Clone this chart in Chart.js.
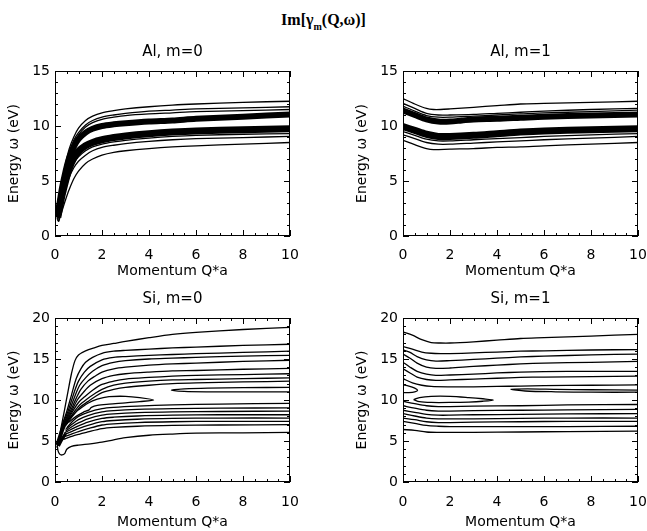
<!DOCTYPE html>
<html><head><meta charset="utf-8">
<script src="https://cdn.jsdelivr.net/npm/chart.js@4.4.1/dist/chart.umd.min.js"></script>
<style>
html,body{margin:0;padding:0;background:#fff;overflow:hidden;width:647px;height:531px;position:relative;}
#main{position:absolute;left:0;top:11px;width:647px;text-align:center;font:bold 16px "Liberation Serif",serif;color:#000;}
#main sub{font-size:10px;vertical-align:-5px;}
canvas{position:absolute;}
</style></head><body>
<div id="main">Im[γ<sub>m</sub>(Q,ω)]</div>
<canvas id="c1" width="325" height="250" style="left:0;top:30px"></canvas>
<canvas id="c2" width="340" height="250" style="left:325px;top:30px"></canvas>
<canvas id="c3" width="325" height="251" style="left:0;top:280px"></canvas>
<canvas id="c4" width="340" height="251" style="left:325px;top:280px"></canvas>
<script>
// ---------- tick definitions ----------
const xTickValues = [0,2,4,6,8,10];
const xMinorStep = 0.5;
const yMinorStep = 1;
const titles = ['Al, m=0','Al, m=1','Si, m=0','Si, m=1'];
const xLabel = 'Momentum Q*a';
const yLabel = 'Energy \u03c9 (eV)';

// ---------- Al, m=0 contours [Q, omega] ----------
const al0_a1 = [[0.1,1.8],[0.2,3.3],[0.3,4.8],[0.45,6.6],[0.6,7.9],[0.8,9.0],[1.0,9.8],[1.3,10.5],[1.6,10.9],[2,11.2],[2.5,11.4],[3,11.55],[4,11.75],[5,11.9],[6,12.0],[8,12.15],[10,12.25]];
const al0_a2 = [[0.1,1.8],[0.2,3.2],[0.3,4.6],[0.45,6.3],[0.6,7.6],[0.8,8.7],[1.0,9.4],[1.3,10.1],[1.6,10.5],[2,10.8],[2.5,11.0],[3,11.15],[4,11.35],[5,11.45],[6,11.55],[8,11.65],[10,11.75]];
const al0_a3 = [[0.1,1.8],[0.2,3.1],[0.3,4.5],[0.45,6.1],[0.6,7.4],[0.8,8.5],[1.0,9.2],[1.3,9.9],[1.6,10.3],[2,10.6],[2.5,10.8],[3,10.95],[4,11.1],[5,11.2],[6,11.3],[8,11.4],[10,11.5]];
const al0_b1 = [[0.1,1.9],[0.2,3.1],[0.3,4.4],[0.45,5.9],[0.6,7.1],[0.8,8.1],[1.0,8.8],[1.3,9.4],[1.6,9.75],[2,10.0],[2.5,10.15],[3,10.25],[4,10.4],[5,10.5],[6,10.65],[8,10.85],[10,11.05]];
const al0_b2 = [[0.12,1.7],[0.2,2.6],[0.3,3.7],[0.45,5.0],[0.6,6.1],[0.8,7.1],[1.0,7.7],[1.3,8.2],[1.6,8.5],[2,8.75],[2.5,8.95],[3,9.1],[4,9.3],[5,9.45],[6,9.55],[8,9.65],[10,9.75]];
const al0_c1 = [[0.12,1.6],[0.2,2.4],[0.3,3.4],[0.45,4.6],[0.6,5.6],[0.8,6.6],[1.0,7.2],[1.3,7.75],[1.6,8.1],[2,8.35],[2.5,8.55],[3,8.7],[4,8.9],[5,9.05],[6,9.15],[8,9.25],[10,9.3]];
const al0_c2 = [[0.12,1.5],[0.2,2.2],[0.3,3.1],[0.45,4.3],[0.6,5.3],[0.8,6.2],[1.0,6.8],[1.3,7.35],[1.6,7.75],[2,8.05],[2.5,8.25],[3,8.4],[4,8.6],[5,8.75],[6,8.85],[8,8.95],[10,9.05]];
const al0_c3 = [[0.15,1.3],[0.2,1.6],[0.3,2.3],[0.45,3.3],[0.6,4.2],[0.8,5.2],[1.0,5.9],[1.3,6.6],[1.6,7.0],[2,7.35],[2.5,7.6],[3,7.75],[4,7.95],[5,8.1],[6,8.2],[8,8.35],[10,8.5]];
const al0_loop = [[0.1,1.5],[0.15,1.35],[0.19,1.7],[0.2,2.3],[0.16,2.6],[0.11,2.3],[0.09,1.9],[0.1,1.5]];

// ---------- Al, m=1 contours ----------
const al1_d1 = [[0,12.5],[0.5,12.0],[1,11.6],[1.3,11.5],[1.6,11.5],[2,11.55],[3,11.7],[4,11.85],[5,12.0],[6,12.05],[8,12.15],[10,12.25]];
const al1_d2 = [[0,12.05],[0.5,11.6],[1,11.15],[1.5,11.0],[2,11.0],[3,11.05],[4,11.15],[5,11.25],[6,11.35],[8,11.5],[10,11.6]];
const al1_d3 = [[0,11.8],[0.5,11.35],[1,10.95],[1.5,10.8],[2,10.8],[3,10.9],[4,11.0],[5,11.1],[6,11.2],[8,11.3],[10,11.45]];
const al1_e1 = [[0,11.4],[0.5,11.0],[1,10.6],[1.5,10.4],[2,10.4],[2.5,10.5],[3,10.6],[4,10.65],[5,10.75],[6,10.85],[8,10.95],[10,11.05]];
const al1_e2 = [[0,9.95],[0.5,9.6],[1,9.25],[1.5,9.05],[2,9.05],[3,9.15],[4,9.3],[5,9.45],[6,9.55],[8,9.65],[10,9.75]];
const al1_f1 = [[0,9.5],[0.5,9.15],[1,8.8],[1.5,8.65],[2,8.65],[3,8.75],[4,8.85],[5,8.95],[6,9.05],[8,9.2],[10,9.3]];
const al1_f2 = [[0,9.2],[0.5,8.85],[1,8.5],[1.5,8.35],[2,8.35],[3,8.45],[4,8.55],[5,8.65],[6,8.75],[8,8.9],[10,9.05]];
const al1_f3 = [[0,8.7],[0.5,8.3],[1,7.95],[1.3,7.85],[2,7.9],[3,7.95],[4,8.05],[5,8.1],[6,8.2],[8,8.35],[10,8.5]];

// ---------- Si, m=0 contours ----------
const si0_u1 = [[0.08,4.2],[0.15,5.0],[0.25,6.5],[0.4,8.7],[0.55,11.0],[0.7,13.2],[0.85,14.8],[1.0,15.5],[1.3,16.0],[1.7,16.4],[2,16.65],[2.5,16.9],[3,17.15],[4,17.6],[5,18.0],[6,18.25],[8,18.6],[10,18.85]];
const si0_u2 = [[0.3,6.9],[0.5,8.6],[0.7,10.6],[0.9,12.6],[1.1,13.8],[1.3,14.6],[1.6,15.2],[2,15.7],[2.5,15.95],[3,16.05],[4,16.2],[5,16.35],[6,16.45],[8,16.65],[10,16.8]];
const si0_u3 = [[0.3,6.9],[0.55,8.6],[0.8,10.8],[1.0,12.3],[1.25,13.4],[1.5,14.1],[2,14.9],[2.5,15.2],[3,15.3],[4,15.45],[5,15.55],[6,15.65],[8,15.8],[10,15.95]];
const si0_u4 = [[0.33,6.9],[0.6,8.6],[0.85,10.5],[1.05,11.8],[1.3,12.7],[1.6,13.5],[2,14.2],[2.5,14.6],[3,14.8],[4,15.0],[5,15.1],[6,15.2],[8,15.35],[10,15.45]];
const si0_u5 = [[0.35,6.9],[0.65,8.6],[0.9,10.2],[1.1,11.3],[1.4,12.3],[1.7,12.9],[2,13.4],[2.5,13.8],[3,14.0],[4,14.25],[5,14.4],[6,14.5],[8,14.7],[10,14.85]];
const si0_u6 = [[0.38,6.9],[0.7,8.6],[0.95,10.0],[1.2,10.9],[1.5,11.8],[2,12.6],[2.5,13.0],[3,13.2],[4,13.4],[5,13.55],[6,13.6],[8,13.75],[10,13.85]];
const si0_u7 = [[0.4,6.9],[0.75,8.6],[1.0,9.7],[1.3,10.5],[1.6,11.2],[2,11.9],[2.5,12.3],[3,12.55],[4,12.75],[5,12.9],[6,13.0],[8,13.1],[10,13.2]];
const si0_u8 = [[0.42,6.9],[0.8,8.5],[1.05,9.4],[1.35,10.1],[1.7,10.8],[2,11.3],[2.5,11.8],[3,12.05],[4,12.3],[5,12.45],[6,12.5],[8,12.6],[10,12.7]];
const si0_u9 = [[0.45,6.9],[0.85,8.4],[1.1,9.2],[1.4,9.8],[1.7,10.4],[2,10.9],[2.5,11.3],[3,11.55],[4,11.8],[5,12.0],[6,12.1],[8,12.2],[10,12.3]];
const si0_t1 = [[0.55,7.6],[0.8,8.3],[1.0,8.8],[1.4,9.6],[1.8,10.1],[2.3,10.4],[3,10.45],[3.6,10.3],[4.2,10.0],[3.6,9.8],[3,9.65],[2.3,9.5],[1.8,9.35],[1.55,9.1],[1.45,8.8],[1.2,8.5],[0.9,8.0],[0.6,7.3]];
const si0_t2 = [[10,11.55],[8,11.5],[6.5,11.45],[5.5,11.35],[4.95,11.2],[5.5,11.05],[6.5,11.0],[8,11.0],[10,11.0]];
const si0_l1 = [[0.5,6.6],[0.75,7.4],[1,8.0],[1.4,8.5],[2,8.95],[2.5,9.1],[3.5,9.25],[5,9.4],[7,9.5],[10,9.6]];
const si0_l2 = [[0.45,6.4],[0.75,7.1],[1,7.6],[1.4,8.1],[2,8.55],[2.5,8.7],[3.5,8.85],[5,8.95],[7,9.0],[10,9.05]];
const si0_l3 = [[0.45,6.2],[0.75,6.8],[1,7.2],[1.4,7.7],[2,8.15],[2.5,8.3],[3.5,8.45],[5,8.55],[7,8.6],[10,8.65]];
const si0_l4 = [[0.4,6.0],[0.75,6.5],[1,6.85],[1.4,7.3],[2,7.75],[2.5,7.9],[3.5,8.05],[5,8.15],[7,8.2],[10,8.2]];
const si0_l5 = [[0.4,5.8],[0.75,6.2],[1,6.5],[1.4,6.9],[2,7.35],[2.5,7.5],[3.5,7.65],[5,7.75],[7,7.8],[10,7.8]];
const si0_l6 = [[0.38,5.5],[0.75,5.9],[1,6.15],[1.4,6.5],[2,6.95],[2.5,7.1],[3.5,7.25],[5,7.35],[7,7.4],[10,7.4]];
const si0_l7 = [[0.35,5.2],[0.75,5.6],[1,5.8],[1.4,6.1],[2,6.5],[2.5,6.65],[3.5,6.8],[5,6.9],[7,6.95],[10,7.0]];
const si0_bot = [[0.1,4.4],[0.13,3.8],[0.2,3.4],[0.3,3.3],[0.42,3.5],[0.5,4.0],[0.7,4.35],[1,4.5],[1.5,4.65],[2,4.85],[2.5,5.15],[3,5.4],[4,5.7],[5,5.85],[6,5.95],[8,6.0],[10,6.05]];
const si0_knot1 = [[0.1,4.5],[0.2,5.4],[0.3,6.3],[0.4,7.0],[0.55,7.5]];
const si0_knot2 = [[0.15,4.4],[0.3,5.2],[0.45,5.9]];

// ---------- Si, m=1 contours ----------
const si1_t1 = [[0,18.3],[0.4,17.9],[0.8,17.35],[1.2,17.0],[1.6,16.95],[2,16.95],[3,17.1],[4,17.3],[5,17.5],[6,17.6],[8,17.8],[10,18.0]];
const si1_t2 = [[0,16.5],[0.4,16.2],[0.8,15.85],[1.2,15.7],[1.6,15.65],[2,15.65],[3,15.75],[4,15.85],[5,15.95],[6,16.0],[8,16.1],[10,16.15]];
const si1_t3 = [[0,16.1],[0.3,15.8],[0.6,15.3],[1,14.9],[1.4,14.75],[2,14.8],[3,14.95],[4,15.1],[5,15.25],[6,15.35],[8,15.5],[10,15.6]];
const si1_t4 = [[0,15.6],[0.3,15.1],[0.6,14.5],[1,14.0],[1.4,13.85],[2,13.9],[3,14.1],[4,14.25],[5,14.4],[6,14.5],[8,14.6],[10,14.7]];
const si1_t5 = [[0,14.6],[0.3,14.0],[0.6,13.5],[1,13.15],[1.4,13.0],[2,13.05],[3,13.15],[4,13.3],[5,13.4],[6,13.45],[8,13.5],[10,13.5]];
const si1_t6 = [[0,13.8],[0.3,13.3],[0.6,12.8],[1,12.5],[1.4,12.4],[2,12.45],[3,12.55],[4,12.65],[5,12.75],[6,12.8],[8,12.85],[10,12.9]];
const si1_t7 = [[0,12.6],[0.4,12.1],[0.8,11.8],[1.2,11.65],[2,11.6],[3,11.6],[4,11.65],[5,11.7],[6,11.75],[8,11.8],[10,11.85]];
const si1_tongue = [[10,11.2],[8,11.25],[6.5,11.3],[5.3,11.35],[4.6,11.3],[5.2,11.1],[6.5,11.0],[8,10.95],[10,10.95]];
const si1_loopL = [[0,11.85],[0.25,11.7],[0.5,11.45],[0.62,11.2],[0.5,11.0],[0.25,10.9],[0,10.9]];
const si1_loopM = [[0.45,10.05],[0.7,10.3],[1.2,10.45],[2,10.45],[2.8,10.3],[3.4,10.15],[3.85,10.0],[3.4,9.85],[2.8,9.75],[2,9.7],[1.2,9.7],[0.7,9.8],[0.45,10.05]];
const si1_l1 = [[0,9.85],[0.5,9.55],[1,9.3],[1.5,9.2],[2,9.2],[3,9.25],[5,9.3],[7,9.4],[10,9.45]];
const si1_l2 = [[0,9.3],[0.5,9.0],[1,8.75],[1.5,8.65],[2,8.65],[3,8.7],[5,8.75],[7,8.8],[10,8.85]];
const si1_l3 = [[0,8.75],[0.5,8.5],[1,8.25],[1.5,8.15],[2,8.15],[3,8.2],[5,8.25],[7,8.3],[10,8.35]];
const si1_l4 = [[0,8.35],[0.5,8.05],[1,7.8],[1.5,7.7],[2,7.7],[3,7.7],[5,7.75],[7,7.8],[10,7.8]];
const si1_l5 = [[0,7.8],[0.5,7.6],[1,7.35],[1.5,7.25],[2,7.25],[3,7.3],[5,7.35],[7,7.4],[10,7.4]];
const si1_l6 = [[0,7.4],[0.5,7.15],[1,6.9],[1.5,6.8],[2,6.75],[3,6.75],[5,6.75],[7,6.75],[10,6.8]];
const si1_l7 = [[0,6.4],[0.5,6.3],[1,6.1],[1.5,6.05],[2,6.05],[3,6.05],[5,6.1],[7,6.15],[10,6.2]];

// ---------- panel assembly ----------
const thinW = 1.3;
function ds(pts, w) {
  return {data: pts.map(p => ({x: p[0], y: p[1]})), showLine: true, borderColor: '#000',
          borderWidth: w || thinW, pointRadius: 0, tension: 0.3, fill: false};
}
const panels = [
  {id:'c1', ymax:15, yStep:5, title:titles[0], pt:41, pr:35, yW:55, xH:44, yTitlePad:6, xPad:11,
   sets:[ds(al0_a1),ds(al0_a2),ds(al0_a3),ds(al0_b1,6),ds(al0_b2,7),ds(al0_c1),ds(al0_c2),ds(al0_c3),ds(al0_loop)]},
  {id:'c2', ymax:15, yStep:5, title:titles[1], pt:41, pr:27, yW:78, xH:44, yTitlePad:29, xPad:11,
   sets:[ds(al1_d1),ds(al1_d2),ds(al1_d3),ds(al1_e1,6),ds(al1_e2,7),ds(al1_f1),ds(al1_f2),ds(al1_f3)]},
  {id:'c3', ymax:20, yStep:5, title:titles[2], pt:38, pr:35, yW:55, xH:49, yTitlePad:6, xPad:12,
   sets:[ds(si0_u1),ds(si0_u2),ds(si0_u3),ds(si0_u4),ds(si0_u5),ds(si0_u6),ds(si0_u7),ds(si0_u8),ds(si0_u9),
         ds(si0_t1),ds(si0_t2),ds(si0_l1),ds(si0_l2),ds(si0_l3),ds(si0_l4),ds(si0_l5),ds(si0_l6),ds(si0_l7),
         ds(si0_bot),ds(si0_knot1,4),ds(si0_knot2,3)]},
  {id:'c4', ymax:20, yStep:5, title:titles[3], pt:38, pr:27, yW:78, xH:49, yTitlePad:29, xPad:12,
   sets:[ds(si1_t1),ds(si1_t2),ds(si1_t3),ds(si1_t4),ds(si1_t5),ds(si1_t6),ds(si1_t7),ds(si1_tongue),
         ds(si1_loopL),ds(si1_loopM),ds(si1_l1),ds(si1_l2),ds(si1_l3),ds(si1_l4),ds(si1_l5),ds(si1_l6),ds(si1_l7)]}
];

const framePlugin = {
  id: 'frame',
  afterDraw(chart, args, opts) {
    const {ctx, chartArea: a, scales: {x, y}} = chart;
    ctx.save();
    ctx.strokeStyle = '#000';
    ctx.lineWidth = 1;
    ctx.strokeRect(a.left + 0.5, a.top + 0.5, a.right - a.left - 1, a.bottom - a.top - 1);
    ctx.beginPath();
    for (let v = x.min; v <= x.max + 1e-9; v += xMinorStep) {
      const px = Math.round(x.getPixelForValue(v)) + 0.5;
      const len = xTickValues.includes(Math.round(v * 100) / 100) ? 6 : 3;
      ctx.moveTo(px, a.bottom); ctx.lineTo(px, a.bottom - len);
      ctx.moveTo(px, a.top); ctx.lineTo(px, a.top + len);
    }
    for (let v = y.min; v <= y.max + 1e-9; v += yMinorStep) {
      const py = Math.round(y.getPixelForValue(v)) + 0.5;
      const len = (Math.round(v) % opts.major === 0) ? 6 : 3;
      ctx.moveTo(a.left, py); ctx.lineTo(a.left + len, py);
      ctx.moveTo(a.right, py); ctx.lineTo(a.right - len, py);
    }
    ctx.stroke();
    ctx.fillStyle = '#000';
    ctx.font = '15px "DejaVu Sans"';
    ctx.textAlign = 'center';
    ctx.textBaseline = 'middle';
    ctx.fillText(opts.text, (a.left + a.right) / 2, a.top - 19);
    ctx.restore();
  }
};

const tickFont = {family: 'DejaVu Sans', size: 14};
panels.forEach(p => {
  new Chart(document.getElementById(p.id), {
    type: 'scatter',
    data: {datasets: p.sets},
    options: {
      responsive: false, animation: false, devicePixelRatio: 1,
      layout: {padding: {top: p.pt, right: p.pr, left: 0, bottom: 0}},
      plugins: {legend: {display: false}, tooltip: {enabled: false}, title: {display: false},
                frame: {text: p.title, major: p.yStep}},
      scales: {
        x: {type: 'linear', min: 0, max: 10,
            afterFit(s) { s.height = p.xH; },
            afterBuildTicks(s) { s.ticks = xTickValues.map(v => ({value: v})); },
            ticks: {font: tickFont, color: '#000', padding: p.xPad, maxRotation: 0},
            grid: {display: false, drawTicks: false}, border: {display: false},
            title: {display: true, text: xLabel, font: tickFont, color: '#000', padding: {top: 0, bottom: 0}}},
        y: {type: 'linear', min: 0, max: p.ymax,
            afterFit(s) { s.width = p.yW; },
            ticks: {stepSize: p.yStep, font: tickFont, color: '#000', padding: 5},
            grid: {display: false, drawTicks: false}, border: {display: false},
            title: {display: true, text: yLabel, font: tickFont, color: '#000', padding: {top: p.yTitlePad, bottom: 0}}}
      }
    },
    plugins: [framePlugin]
  });
});
</script>
</body></html>
